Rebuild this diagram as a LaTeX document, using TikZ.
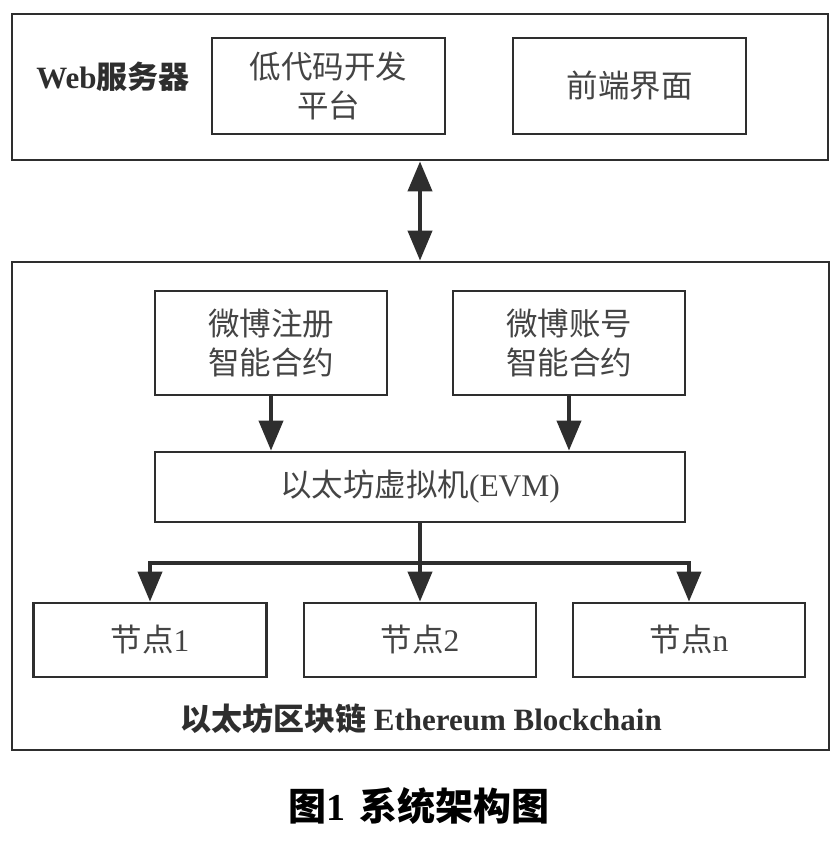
\documentclass[tikz,border=0pt]{standalone}
\usepackage{fontspec}
\setmainfont{Liberation Serif}
\newfontfamily\cjk{Noto Sans CJK SC}
\usetikzlibrary{arrows.meta}
\definecolor{ink}{HTML}{2E2E2E}
\definecolor{txt}{HTML}{444444}
\begin{document}
\begin{tikzpicture}[x=1pt,y=-1pt,
  box/.style={draw=ink, line width=2.8pt, fill=white, inner sep=0pt, align=center,
    text=txt, font=\fontsize{31.5}{39}\selectfont\cjk},
  conn/.style={draw=ink, line width=4pt, -{Triangle[length=30pt,width=24pt]}},
  bothconn/.style={draw=ink, line width=4pt, {Triangle[length=30pt,width=24pt]}-{Triangle[length=30pt,width=24pt]}},
  title/.style={text=ink, font=\fontsize{31}{34}\selectfont\bfseries}]
\useasboundingbox (0,0) rectangle (840,844);
\fill[white] (0,0) rectangle (840,844);
% top server box
\node[box, minimum width=816pt, minimum height=146pt] (web) at (420,87) {};
\node[box, minimum width=233pt, minimum height=96pt] (lowcode) at (328.5,86) {低代码开发\\平台};
\node[box, minimum width=233pt, minimum height=96pt] (front) at (629.5,86) {前端界面};
\node[title, anchor=center] (weblbl) at (113,77) {Web{\cjk 服务器}};
% blockchain box
\node[box, minimum width=817pt, minimum height=488pt] (chain) at (420.5,506) {};
\draw[bothconn] (web.south -| 420,0) -- (chain.north -| 420,0);
\node[box, minimum width=232pt, minimum height=104pt] (reg) at (271,343) {微博注册\\智能合约};
\node[box, minimum width=232pt, minimum height=104pt] (acct) at (569,343) {微博账号\\智能合约};
\node[box, minimum width=530pt, minimum height=70pt] (evm) at (420,487) {以太坊虚拟机{\rmfamily(EVM)}};
\node[box, minimum width=233pt, minimum height=74pt] (n1) at (150,640) {节点{\rmfamily 1}};
\node[box, minimum width=232pt, minimum height=74pt] (n2) at (420,640) {节点{\rmfamily 2}};
\node[box, minimum width=232pt, minimum height=74pt] (n3) at (689,640) {节点{\rmfamily n}};
\draw[conn] (reg.south) -- (reg.south |- evm.north);
\draw[conn] (acct.south) -- (acct.south |- evm.north);
\coordinate (bm) at (420,563);
\coordinate (bl) at (150,563);
\coordinate (br) at (689,563);
\draw[draw=ink, line width=4pt] (evm.south) -- (bm);
\draw[draw=ink, line width=4pt] ([xshift=-2pt]bl) -- ([xshift=2pt]br);
\draw[conn] (bl) -- (n1.north);
\draw[conn] (bm) -- (n2.north);
\draw[conn] (br) -- (n3.north);
\node[title] (chainlbl) at (421,719) {{\cjk 以太坊区块链} Ethereum Blockchain};
\node[text=black, font=\fontsize{38}{44}\selectfont\bfseries] (cap) at (419,806) {{\cjk 图}1\hspace{14pt}{\cjk 系统架构图}};
\end{tikzpicture}
\end{document}
